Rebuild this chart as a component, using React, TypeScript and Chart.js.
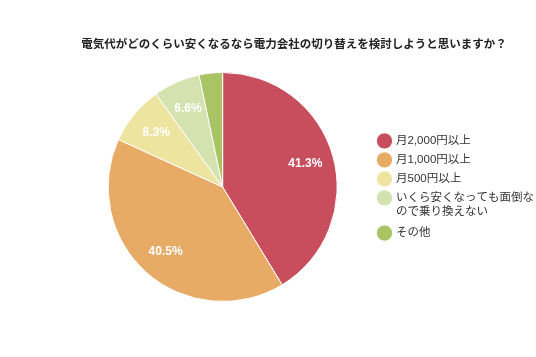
import React, { useEffect, useRef } from "react";
import { Chart, registerables } from "chart.js";

Chart.register(...registerables);

const TITLE = "電気代がどのくらい安くなるなら電力会社の切り替えを検討しようと思いますか？";
const categories: (string | string[])[] = [
  "月2,000円以上",
  "月1,000円以上",
  "月500円以上",
  ["いくら安くなっても面倒な", "ので乗り換えない"],
  "その他",
];
const values = [41.3, 40.5, 8.3, 6.6, 3.3];
const colors = ["#C84E5E", "#E8AB66", "#EDE4A0", "#D4E2AF", "#A8C464"];

const FONT = "'Liberation Sans', Arial, 'Noto Sans CJK JP', sans-serif";

const sliceLabels = {
  id: "sliceLabels",
  afterDatasetsDraw(chart: any) {
    const ctx = chart.ctx;
    const meta = chart.getDatasetMeta(0);
    ctx.save();
    ctx.fillStyle = "#ffffff";
    ctx.font = `bold 12px ${FONT}`;
    ctx.textAlign = "center";
    ctx.textBaseline = "middle";
    meta.data.forEach((arc: any, i: number) => {
      const v = values[i];
      if (v < 5) return;
      const { x, y, startAngle, endAngle, outerRadius } = arc.getProps(
        ["x", "y", "startAngle", "endAngle", "outerRadius"],
        true
      );
      const mid = (startAngle + endAngle) / 2;
      const r = outerRadius * 0.75;
      ctx.fillText(v.toFixed(1) + "%", x + Math.cos(mid) * r, y + Math.sin(mid) * r);
    });
    ctx.restore();
  },
};

const titlePlugin = {
  id: "customTitle",
  afterDraw(chart: any) {
    const ctx = chart.ctx;
    ctx.save();
    ctx.fillStyle = "#222222";
    ctx.font = `bold 11.5px ${FONT}`;
    ctx.textAlign = "center";
    ctx.textBaseline = "middle";
    ctx.fillText(TITLE, 294, 45);
    ctx.restore();
  },
};

export default function App() {
  const ref = useRef<HTMLCanvasElement>(null);
  useEffect(() => {
    if (!ref.current) return;
    const chart = new Chart(ref.current, {
      type: "pie",
      data: {
        labels: categories as any,
        datasets: [
          {
            data: values,
            backgroundColor: colors,
            borderColor: "#ffffff",
            borderWidth: 1,
          },
        ],
      },
      options: {
        responsive: false,
        animation: false,
        layout: { padding: { left: 74, right: -8, top: 72, bottom: 55 } },
        plugins: {
          title: { display: false },
          tooltip: { enabled: false },
          legend: {
            position: "right",
            labels: {
              usePointStyle: true,
              pointStyle: "circle",
              boxWidth: 12,
              boxHeight: 12,
              padding: 7.5,
              color: "#333333",
              font: { size: 11.5, family: FONT },
            },
          },
        },
      },
      plugins: [sliceLabels, titlePlugin],
    });
    return () => chart.destroy();
  }, []);
  return (
    <div style={{ position: "absolute", left: 0, top: 0, width: 536, height: 357, background: "#fff" }}>
      <canvas ref={ref} width={536} height={357} />
    </div>
  );
}
